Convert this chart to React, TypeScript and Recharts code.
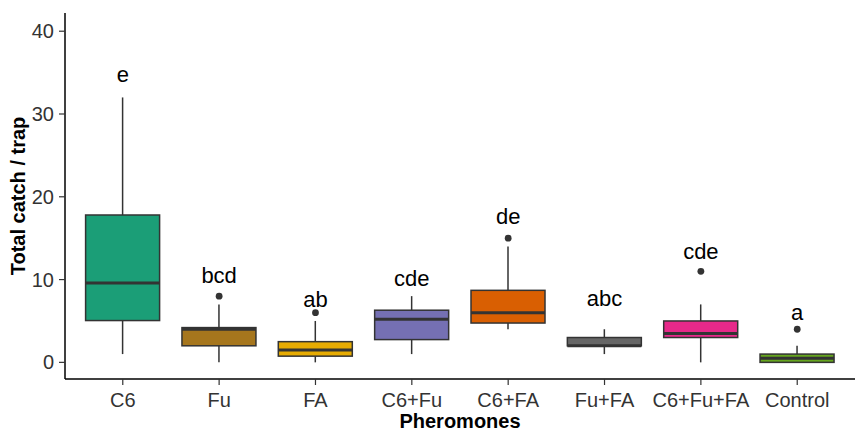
import React from 'react';
import { ComposedChart, Bar, Scatter, XAxis, YAxis } from 'recharts';

const categories = ['C6', 'Fu', 'FA', 'C6+Fu', 'C6+FA', 'Fu+FA', 'C6+Fu+FA', 'Control'];
const whiskerLow = [1, 0, 0, 1, 4, 1, 0, 0];
const q1 = [5.05, 2, 0.75, 2.75, 4.75, 2, 3, 0];
const median = [9.6, 4, 1.5, 5.2, 6, 2, 3.5, 0.5];
const q3 = [17.8, 4.2, 2.5, 6.3, 8.7, 3, 5, 1];
const whiskerHigh = [32, 7, 5, 8, 14, 4, 7, 2];
const outliers = [null, 8, 6, null, 15, null, 11, 4];
const letters = ['e', 'bcd', 'ab', 'cde', 'de', 'abc', 'cde', 'a'];
const letterY = [34.8, 10.5, 7.6, 10.1, 17.6, 7.7, 13.4, 6.0];
const colors = ['#1B9E77', '#A6761D', '#E6AB02', '#7570B3', '#D95F02', '#666666', '#E7298A', '#66A61E'];
const yTicks = [0, 10, 20, 30, 40];

const chartData = categories.map((name, i) => ({
  name,
  low: whiskerLow[i],
  q1: q1[i],
  median: median[i],
  q3: q3[i],
  high: whiskerHigh[i],
  outlier: outliers[i],
  letter: letters[i],
  letterY: letterY[i],
  color: colors[i],
}));

const FONT = '"Liberation Sans", Arial, sans-serif';

// box drawn inside the low..high range bar; inner values mapped on the same pixel span
const BoxShape = (props: any) => {
  const { x, y, width, height, payload } = props;
  const top = Math.min(y, y + height);
  const bottom = Math.max(y, y + height);
  const { low, high } = payload;
  const toPx = (v: number) => bottom - ((v - low) / (high - low)) * (bottom - top);
  const cx = x + width / 2;
  const yq3 = toPx(payload.q3);
  const yq1 = toPx(payload.q1);
  const ymed = toPx(payload.median);
  return (
    <g>
      <line x1={cx} x2={cx} y1={top} y2={yq3} stroke="#333333" strokeWidth={1.5} />
      <line x1={cx} x2={cx} y1={yq1} y2={bottom} stroke="#333333" strokeWidth={1.5} />
      <rect x={x} y={yq3} width={width} height={yq1 - yq3} fill={payload.color} stroke="#333333" strokeWidth={1.5} />
      <line x1={x} x2={x + width} y1={ymed} y2={ymed} stroke="#333333" strokeWidth={3} />
    </g>
  );
};

const OutlierShape = (props: any) => {
  if (props.payload.outlier == null || !isFinite(props.cy)) return <g />;
  return <circle cx={props.cx} cy={props.cy} r={3.4} fill="#333333" />;
};

const LetterShape = (props: any) => (
  <text x={props.cx} y={props.cy} textAnchor="middle" dominantBaseline="central"
    fontSize={22} fontFamily={FONT} fill="#000000">
    {props.payload.letter}
  </text>
);

const XTitle = ({ viewBox }: any) => (
  <text x={viewBox.x + viewBox.width / 2} y={428} textAnchor="middle" fontSize={20}
    fontWeight="bold" fontFamily={FONT} fill="#000000">
    Pheromones
  </text>
);

const YTitle = ({ viewBox }: any) => {
  const cy = viewBox.y + viewBox.height / 2;
  return (
    <text x={25} y={cy} transform={`rotate(-90 25 ${cy})`} textAnchor="middle" fontSize={20}
      fontWeight="bold" fontFamily={FONT} fill="#000000">
      Total catch / trap
    </text>
  );
};

export default function App() {
  return (
    <div style={{ width: 858, height: 431, background: '#ffffff' }}>
      <style>{'body{margin:0}'}</style>
      <ComposedChart width={858} height={431} data={chartData}
        margin={{ top: 13, right: 3, bottom: 0, left: 0 }}>
        <XAxis dataKey="name" height={52} padding={{ left: 9.6, right: 9.6 }}
          axisLine={{ stroke: '#000000', strokeWidth: 1.5 }}
          tickLine={{ stroke: '#333333', strokeWidth: 1.2 }} tickSize={6} tickMargin={8}
          tick={{ fill: '#333333', fontSize: 20, fontFamily: FONT }}
          label={<XTitle />} />
        <YAxis type="number" domain={[-2.01, 42.2]} ticks={yTicks} width={65} allowDataOverflow
          axisLine={{ stroke: '#000000', strokeWidth: 1.5 }}
          tickLine={{ stroke: '#333333', strokeWidth: 1.2 }} tickSize={6} tickMargin={5}
          tick={{ fill: '#333333', fontSize: 20, fontFamily: FONT }}
          label={<YTitle />} />
        <Bar dataKey={(d: any) => [d.low, d.high]} barSize={74} shape={<BoxShape />}
          isAnimationActive={false} />
        <Scatter dataKey="outlier" shape={<OutlierShape />} isAnimationActive={false} />
        <Scatter dataKey="letterY" shape={<LetterShape />} isAnimationActive={false} />
      </ComposedChart>
    </div>
  );
}
